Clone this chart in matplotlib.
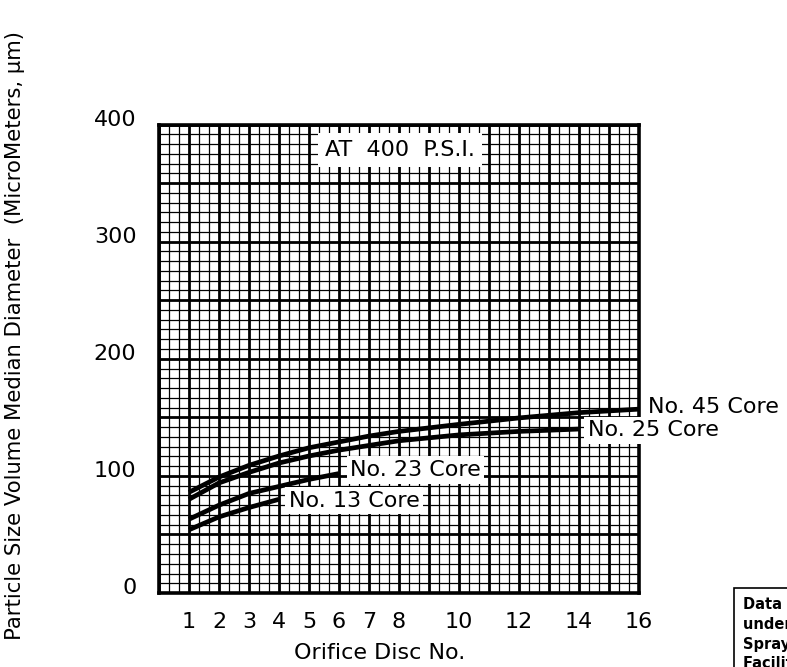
import matplotlib
matplotlib.use("Agg")
import matplotlib.pyplot as plt
from matplotlib.ticker import MultipleLocator

# ---- data ----
x45 = [1, 2, 3, 4, 5, 6, 7, 8, 10, 12, 14, 16]
y45 = [86, 99, 109, 117, 124, 129, 134, 138, 144, 149.5, 154, 157]
x25 = [1, 2, 3, 4, 5, 6, 7, 8, 10, 12, 14]
y25 = [80, 94, 103, 111, 117, 122, 126, 130, 135, 138, 140]
x23 = [1, 2, 3, 4, 5, 6]
y23 = [63, 75, 85, 91, 97, 102]
x13 = [1, 2, 3, 4]
y13 = [54, 65, 73, 80]

xtick_vals = [1, 2, 3, 4, 5, 6, 7, 8, 10, 12, 14, 16]
ytick_vals = [0, 100, 200, 300, 400]

series_labels = ["No. 45 Core", "No. 25 Core", "No. 23 Core", "No. 13 Core"]
title_text = "AT  400  P.S.I."
xlabel = "Orifice Disc No."
ylabel = "Particle Size Volume Median Diameter  (MicroMeters, \u03bcm)"
note_text = "Data taken\nunder test\nSpray conditions\nFacility records"

plt.rcParams['font.family'] = ['DejaVu Sans']

fig = plt.figure(figsize=(7.87, 6.67), dpi=100)
ax = fig.add_axes([0.2020, 0.1109, 0.6099, 0.7024])
ax.set_xlim(0, 16)
ax.set_ylim(0, 400)

# grid
ax.xaxis.set_major_locator(MultipleLocator(1))
ax.xaxis.set_minor_locator(MultipleLocator(1 / 3))
ax.yaxis.set_major_locator(MultipleLocator(50))
ax.yaxis.set_minor_locator(MultipleLocator(50 / 6))
ax.grid(which='major', color='black', linewidth=2.0)
ax.grid(which='minor', color='black', linewidth=0.9)
ax.set_axisbelow(True)

ax.tick_params(which='both', length=0, labelbottom=False, labelleft=False)
for xv in xtick_vals:
    ax.text(xv, -25, str(xv), ha='center', va='center', fontsize=16,
            clip_on=False)
for yv in ytick_vals:
    ax.text(-0.75, yv + 4, str(yv), ha='right', va='center', fontsize=16,
            clip_on=False)

for s in ax.spines.values():
    s.set_linewidth(2.6)
    s.set_color('black')
    s.set_zorder(5)

lw = 3.4
ax.plot(x45, y45, color='black', lw=lw, solid_capstyle='butt', zorder=3)
ax.plot(x25, y25, color='black', lw=lw, solid_capstyle='butt', zorder=3)
ax.plot(x23, y23, color='black', lw=lw, solid_capstyle='butt', zorder=3)
ax.plot(x13, y13, color='black', lw=lw, solid_capstyle='butt', zorder=3)

box = dict(facecolor='white', edgecolor='none', pad=2.5)
ax.text(16.3, 159, series_labels[0], fontsize=16, ha='left', va='center',
        bbox=box, zorder=6, clip_on=False)
ax.text(14.3, 139, series_labels[1], fontsize=16, ha='left', va='center',
        bbox=box, zorder=6, clip_on=False)
ax.text(6.37, 105, series_labels[2], fontsize=16, ha='left', va='center',
        bbox=box, zorder=6, clip_on=False)
ax.text(4.33, 79, series_labels[3], fontsize=16, ha='left', va='center',
        bbox=box, zorder=6, clip_on=False)
ax.text(8.03, 378, title_text, fontsize=16, ha='center', va='center',
        bbox=dict(facecolor='white', edgecolor='none', pad=5), zorder=6)

fig.text(380 / 787, 1 - 653 / 667, xlabel, fontsize=16, ha='center', va='center')
fig.text(15 / 787, 1 - 335 / 667, ylabel, fontsize=15.2, ha='center', va='center',
         rotation=90)

fig.text(743 / 787, 1 - 597 / 667, note_text, fontsize=10.5, fontweight='bold',
         ha='left', va='top', linespacing=1.4,
         bbox=dict(facecolor='white', edgecolor='black', linewidth=1.2,
                   boxstyle='square,pad=0.65'))

fig.savefig("out.png", dpi=100)
